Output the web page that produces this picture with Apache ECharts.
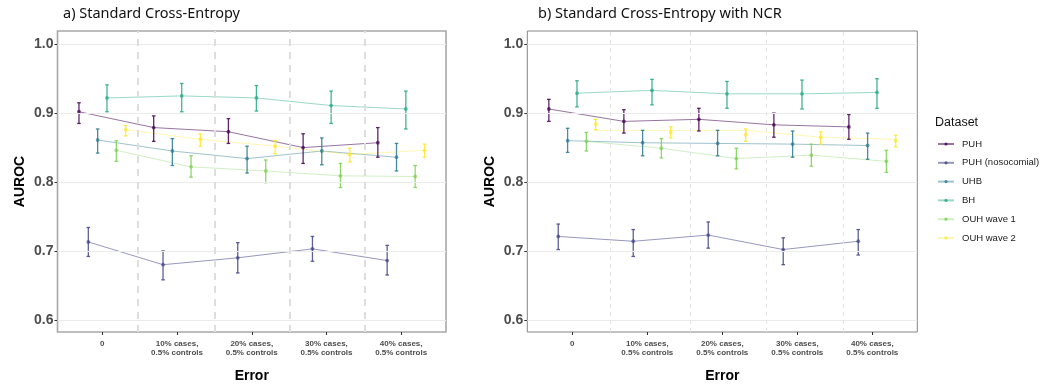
<!DOCTYPE html>
<html><head><meta charset="utf-8">
<script src="https://cdn.jsdelivr.net/npm/echarts@6/dist/echarts.min.js"></script>
<style>html,body{margin:0;padding:0;background:#fff}#c{width:1042px;height:388px}</style>
</head><body><div id="c"></div>
<script>
// ---------- data ----------
const categories = ['0', '10% cases,\n0.5% controls', '20% cases,\n0.5% controls', '30% cases,\n0.5% controls', '40% cases,\n0.5% controls'];
const seriesNames = ['PUH', 'PUH (nosocomial)', 'UHB', 'BH', 'OUH wave 1', 'OUH wave 2'];
const yTicks = [0.6, 0.7, 0.8, 0.9, 1.0];
const vlinesA = [1.48, 2.50, 3.51, 4.51];
const vlinesB = [1.51, 2.57, 3.59, 4.61];

// panel a) Standard Cross-Entropy
const a_PUH_mean = [0.902, 0.879, 0.873, 0.850, 0.857];
const a_PUH_lo   = [0.885, 0.859, 0.856, 0.827, 0.836];
const a_PUH_hi   = [0.915, 0.896, 0.892, 0.870, 0.879];
const a_PUHn_mean = [0.713, 0.680, 0.690, 0.703, 0.686];
const a_PUHn_lo   = [0.692, 0.658, 0.668, 0.685, 0.665];
const a_PUHn_hi   = [0.734, 0.700, 0.712, 0.721, 0.708];
const a_UHB_mean = [0.861, 0.845, 0.834, 0.845, 0.836];
const a_UHB_lo   = [0.842, 0.824, 0.813, 0.825, 0.816];
const a_UHB_hi   = [0.877, 0.863, 0.852, 0.864, 0.856];
const a_BH_mean = [0.922, 0.925, 0.922, 0.911, 0.906];
const a_BH_lo   = [0.902, 0.902, 0.903, 0.885, 0.877];
const a_BH_hi   = [0.941, 0.943, 0.940, 0.932, 0.932];
const a_OUH1_mean = [0.846, 0.822, 0.816, 0.809, 0.808];
const a_OUH1_lo   = [0.830, 0.807, 0.799, 0.792, 0.792];
const a_OUH1_hi   = [0.860, 0.838, 0.832, 0.827, 0.824];
const a_OUH2_mean = [0.876, 0.862, 0.852, 0.840, 0.846];
const a_OUH2_lo   = [0.867, 0.852, 0.841, 0.829, 0.836];
const a_OUH2_hi   = [0.882, 0.870, 0.860, 0.849, 0.855];

// panel b) Standard Cross-Entropy with NCR
const b_PUH_mean = [0.906, 0.888, 0.891, 0.883, 0.880];
const b_PUH_lo   = [0.888, 0.871, 0.874, 0.865, 0.862];
const b_PUH_hi   = [0.920, 0.905, 0.907, 0.900, 0.898];
const b_PUHn_mean = [0.721, 0.714, 0.723, 0.702, 0.714];
const b_PUHn_lo   = [0.702, 0.692, 0.704, 0.680, 0.694];
const b_PUHn_hi   = [0.739, 0.731, 0.742, 0.719, 0.731];
const b_UHB_mean = [0.860, 0.857, 0.856, 0.855, 0.853];
const b_UHB_lo   = [0.843, 0.838, 0.838, 0.836, 0.833];
const b_UHB_hi   = [0.878, 0.875, 0.875, 0.874, 0.871];
const b_BH_mean = [0.929, 0.933, 0.928, 0.928, 0.930];
const b_BH_lo   = [0.909, 0.912, 0.907, 0.906, 0.907];
const b_BH_hi   = [0.947, 0.949, 0.946, 0.948, 0.950];
const b_OUH1_mean = [0.859, 0.849, 0.834, 0.839, 0.830];
const b_OUH1_lo   = [0.845, 0.835, 0.819, 0.823, 0.814];
const b_OUH1_hi   = [0.872, 0.863, 0.849, 0.855, 0.846];
const b_OUH2_mean = [0.884, 0.872, 0.869, 0.865, 0.860];
const b_OUH2_lo   = [0.876, 0.864, 0.859, 0.855, 0.851];
const b_OUH2_hi   = [0.891, 0.880, 0.877, 0.873, 0.868];
const b_OUH2_line = [0.875, 0.875, 0.875, 0.865, 0.862];

// ---------- styling ----------
const colors = ['#440154', '#414487', '#2A788E', '#22A884', '#7AD151', '#FDE725'];
const dodge = [-0.3125, -0.1875, -0.0625, 0.0625, 0.1875, 0.3125];

const panelA = [
  {mean: a_PUH_mean, lo: a_PUH_lo, hi: a_PUH_hi},
  {mean: a_PUHn_mean, lo: a_PUHn_lo, hi: a_PUHn_hi},
  {mean: a_UHB_mean, lo: a_UHB_lo, hi: a_UHB_hi},
  {mean: a_BH_mean, lo: a_BH_lo, hi: a_BH_hi},
  {mean: a_OUH1_mean, lo: a_OUH1_lo, hi: a_OUH1_hi},
  {mean: a_OUH2_mean, lo: a_OUH2_lo, hi: a_OUH2_hi}
];
const panelB = [
  {mean: b_PUH_mean, lo: b_PUH_lo, hi: b_PUH_hi},
  {mean: b_PUHn_mean, lo: b_PUHn_lo, hi: b_PUHn_hi},
  {mean: b_UHB_mean, lo: b_UHB_lo, hi: b_UHB_hi},
  {mean: b_BH_mean, lo: b_BH_lo, hi: b_BH_hi},
  {mean: b_OUH1_mean, lo: b_OUH1_lo, hi: b_OUH1_hi},
  {mean: b_OUH2_mean, lo: b_OUH2_lo, hi: b_OUH2_hi, line: b_OUH2_line}
];
const lineAlpha = [0.55, 0.55, 0.45, 0.45, 0.35, 0.35];

function lineSeries(gi, k, d) {
  const ys = d.line || d.mean;
  return {
    type: 'line', name: seriesNames[k], xAxisIndex: gi, yAxisIndex: gi,
    data: ys.map((v, i) => [i + 1 + dodge[k], v]),
    showSymbol: false, symbol: 'circle', symbolSize: 3, silent: true, z: 2,
    lineStyle: {color: colors[k], width: 1, opacity: lineAlpha[k]},
    itemStyle: {color: colors[k], opacity: 0.8}
  };
}
function errSeries(gi, k, d) {
  const color = colors[k];
  return {
    type: 'custom', name: seriesNames[k], xAxisIndex: gi, yAxisIndex: gi, z: 3, silent: true,
    data: d.mean.map((v, i) => [i + 1 + dodge[k], d.lo[i], d.hi[i], v]),
    renderItem(params, api) {
      const x = api.value(0);
      const a = api.coord([x, api.value(1)]);
      const b = api.coord([x, api.value(2)]);
      const m = api.coord([x, api.value(3)]);
      const w = 1.8;
      const st = {stroke: color, lineWidth: 1.3, opacity: 0.85};
      return {type: 'group', children: [
        {type: 'line', shape: {x1: a[0], y1: a[1], x2: b[0], y2: b[1]}, style: st},
        {type: 'line', shape: {x1: a[0] - w, y1: a[1], x2: a[0] + w, y2: a[1]}, style: st},
        {type: 'line', shape: {x1: b[0] - w, y1: b[1], x2: b[0] + w, y2: b[1]}, style: st},
        {type: 'circle', shape: {cx: m[0], cy: m[1], r: 1.9}, style: {fill: color, opacity: 0.7}}
      ]};
    }
  };
}
function refSeries(gi, vlines, vstyle) {
  return {
    type: 'line', xAxisIndex: gi, yAxisIndex: gi, data: [], silent: true, z: 1,
    markLine: {
      silent: true, symbol: 'none', label: {show: false}, animation: false,
      data: yTicks.map(v => ({yAxis: v, lineStyle: {color: '#ebebeb', width: 1.2, type: 'solid'}}))
        .concat(vlines.map(v => ({xAxis: v, lineStyle: vstyle})))
    }
  };
}

const xAxisBase = {
  type: 'value', min: 0.4, max: 5.6,
  axisLine: {show: false}, splitLine: {show: false},
  axisTick: {show: true, customValues: [1, 2, 3, 4, 5], length: 3, lineStyle: {color: '#333', width: 1}},
  axisLabel: {customValues: [1, 2, 3, 4, 5], formatter: v => categories[Math.round(v) - 1],
    fontSize: 8, fontWeight: 'bold', color: '#4d4d4d', lineHeight: 9.5, margin: 7,
    fontFamily: 'Liberation Sans, Arial, sans-serif', verticalAlign: 'top'},
  name: 'Error', nameLocation: 'middle', nameGap: 37,
  nameTextStyle: {fontSize: 14, fontWeight: 'bold', color: '#000', fontFamily: 'Liberation Sans, Arial, sans-serif'}
};
const yAxisBase = {
  type: 'value', min: 0.5823, max: 1.0192,
  axisLine: {show: false}, splitLine: {show: false},
  axisTick: {show: true, customValues: yTicks, length: 3, lineStyle: {color: '#333', width: 1}},
  axisLabel: {customValues: yTicks, formatter: v => v.toFixed(1), fontSize: 14, fontWeight: 'bold',
    color: '#4d4d4d', margin: 4, fontFamily: 'Liberation Sans, Arial, sans-serif'},
  name: 'AUROC', nameLocation: 'middle', nameGap: 30, nameRotate: 90,
  nameTextStyle: {fontSize: 14, fontWeight: 'bold', color: '#000', fontFamily: 'Liberation Sans, Arial, sans-serif'}
};

const series = [];
panelA.forEach((d, k) => series.push(lineSeries(0, k, d)));
panelB.forEach((d, k) => series.push(lineSeries(1, k, d)));
series.push(refSeries(0, vlinesA, {color: '#dedede', width: 2, type: [7, 6]}));
series.push(refSeries(1, vlinesB, {color: '#e3e3e3', width: 1, type: [4, 4]}));
panelA.forEach((d, k) => series.push(errSeries(0, k, d)));
panelB.forEach((d, k) => series.push(errSeries(1, k, d)));

const chart = echarts.init(document.getElementById('c'), null, {renderer: 'canvas'});
chart.setOption({
  animation: false,
  backgroundColor: '#fff',
  title: [
    {text: 'a) Standard Cross-Entropy', left: 63, top: 6, padding: 0,
      textStyle: {fontSize: 14.5, fontWeight: 'normal', color: '#111', fontFamily: 'Noto Sans'}},
    {text: 'b) Standard Cross-Entropy with NCR', left: 538, top: 6, padding: 0,
      textStyle: {fontSize: 14.5, fontWeight: 'normal', color: '#111', fontFamily: 'Noto Sans'}},
    {text: 'Dataset', left: 935, top: 116, padding: 0,
      textStyle: {fontSize: 12.5, fontWeight: 'normal', color: '#111', fontFamily: 'Liberation Sans, Arial, sans-serif'}}
  ],
  legend: {
    orient: 'vertical', left: 937, top: 139, padding: 0, itemWidth: 16, itemHeight: 4, itemGap: 8.8,
    data: seriesNames, selectedMode: false,
    textStyle: {fontSize: 9.5, color: '#1a1a1a', fontFamily: 'Liberation Sans, Arial, sans-serif', padding: [0, 0, 0, 3]}
  },
  grid: [
    {left: 57.5, top: 31, width: 388.5, height: 302, show: true, borderColor: '#a8a8a8', borderWidth: 1.6, backgroundColor: 'transparent'},
    {left: 527.3, top: 31, width: 390, height: 302, show: true, borderColor: '#858585', borderWidth: 1, backgroundColor: 'transparent'}
  ],
  xAxis: [Object.assign({gridIndex: 0}, xAxisBase), Object.assign({gridIndex: 1}, xAxisBase)],
  yAxis: [Object.assign({gridIndex: 0}, yAxisBase), Object.assign({gridIndex: 1}, yAxisBase)],
  series: series
});
</script>
</body></html>
